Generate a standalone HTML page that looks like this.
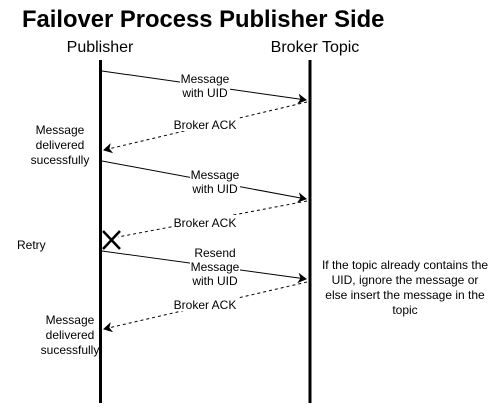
<!DOCTYPE html>
<html><head><style>
body{margin:0;width:491px;height:403px;background:#fff;overflow:hidden}
svg text{font-family:"Liberation Sans",Arial,sans-serif;fill:#000}
</style></head><body>
<svg width="491" height="403" viewBox="0 0 491 403" xmlns="http://www.w3.org/2000/svg">
<defs>
<marker id="a" markerWidth="10" markerHeight="10" refX="8" refY="5" orient="auto" markerUnits="userSpaceOnUse">
<path d="M1,1 L8,5 L1,9 L3,5 Z" fill="#000" stroke="#000" stroke-width="1"/>
</marker>
</defs>
<text x="22" y="27" font-size="23.8" font-weight="bold">Failover Process Publisher Side</text>
<text x="100" y="52" font-size="16" text-anchor="middle">Publisher</text>
<text x="315" y="52" font-size="16" text-anchor="middle">Broker Topic</text>
<line x1="100.5" y1="60" x2="100.5" y2="403" stroke="#000" stroke-width="3"/>
<line x1="310" y1="60" x2="310" y2="403" stroke="#000" stroke-width="3"/>
<g stroke="#000" stroke-width="1" fill="none">
<line x1="102" y1="71" x2="306" y2="100" marker-end="url(#a)"/>
<line x1="307" y1="102" x2="104" y2="150" stroke-dasharray="3,3" marker-end="url(#a)"/>
<line x1="102" y1="161" x2="306" y2="199" marker-end="url(#a)"/>
<line x1="307" y1="201" x2="118" y2="237" stroke-dasharray="3,3"/>
<line x1="102" y1="251" x2="306" y2="279" marker-end="url(#a)"/>
<line x1="307" y1="282" x2="104" y2="329" stroke-dasharray="3,3" marker-end="url(#a)"/>
</g>
<path d="M103,231 L120,249 M120,231 L103,249" stroke="#000" stroke-width="2.5"/>
<g font-size="12" text-anchor="middle">
<rect x="180" y="70" width="50" height="28" fill="#fff"/>
<text x="205" y="83">Message</text><text x="205" y="97">with UID</text>
<rect x="173" y="117" width="64" height="14" fill="#fff"/>
<text x="205" y="129">Broker ACK</text>
<rect x="190" y="166" width="50" height="28" fill="#fff"/>
<text x="215" y="179">Message</text><text x="215" y="193">with UID</text>
<rect x="173" y="215" width="64" height="14" fill="#fff"/>
<text x="205" y="227">Broker ACK</text>
<rect x="190" y="245" width="50" height="42" fill="#fff"/>
<text x="215" y="257">Resend</text><text x="215" y="271">Message</text><text x="215" y="285">with UID</text>
<rect x="173" y="297" width="64" height="14" fill="#fff"/>
<text x="205" y="309">Broker ACK</text>
<text x="60" y="134">Message</text><text x="60" y="149">delivered</text><text x="60" y="164">sucessfully</text>
<text x="70" y="324">Message</text><text x="70" y="339">delivered</text><text x="70" y="354">sucessfully</text>
<text x="405" y="269">If the topic already contains the</text>
<text x="405" y="284">UID, ignore the message or</text>
<text x="405" y="299">else insert the message in the</text>
<text x="405" y="314">topic</text>
</g>
<text x="17" y="249" font-size="12">Retry</text>
</svg>
</body></html>
